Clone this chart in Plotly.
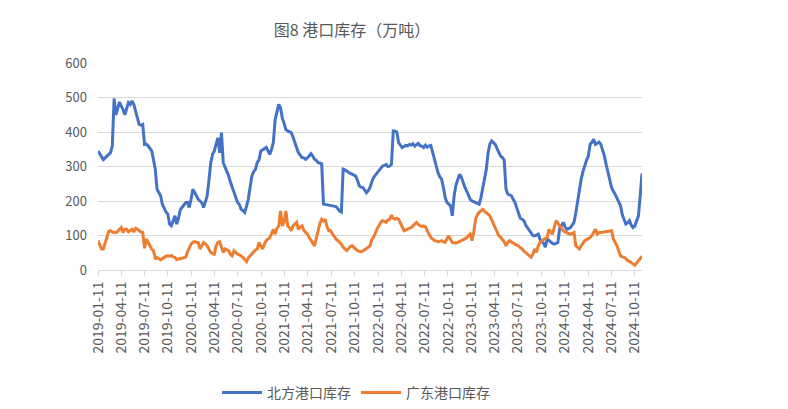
import pandas as pd
import plotly.graph_objects as go

# 周度数据，起点 2019-01-11
start_date = "2019-01-11"

north_stock = [
    345, 335, 328, 320, 325, 330, 335, 340, 360, 497,
    450, 470, 487, 475, 465, 450, 470, 485, 480, 490,
    480, 460, 446, 422, 420, 422, 364, 365, 360, 352,
    345, 320, 292, 234, 225, 215, 190, 176, 168, 162,
    133, 128, 145, 157, 133, 150, 175, 182, 190, 195,
    196, 181, 205, 234, 225, 215, 205, 200, 195, 181,
    195, 215, 260, 310, 335, 345, 365, 383, 340, 398,
    311, 300, 285, 273, 255, 240, 224, 210, 196, 190,
    176, 172, 167, 185, 205, 240, 273, 285, 292, 311,
    320, 345, 348, 350, 355, 345, 335, 350, 370, 436,
    460, 480, 470, 440, 425, 407, 403, 400, 398, 385,
    369, 355, 340, 333, 326, 325, 321, 325, 330, 337,
    330, 321, 318, 311, 310, 308, 191, 190, 190, 189,
    188, 187, 185, 184, 178, 171, 168, 292, 290, 286,
    282, 280, 278, 275, 272, 260, 244, 240, 239, 232,
    224, 230, 239, 255, 268, 275, 282, 288, 295, 301,
    303, 306, 300, 301, 306, 403, 402, 400, 369, 360,
    355, 358, 361, 360, 364, 362, 366, 359, 363, 367,
    360, 359, 355, 362, 356, 360, 361, 340, 321, 300,
    282, 270, 263, 240, 210, 196, 192, 186, 157, 215,
    245, 265, 277, 270, 253, 240, 229, 215, 205, 200,
    198, 196, 193, 191, 210, 234, 265, 292, 340, 365,
    374, 368, 364, 352, 340, 330, 326, 318, 234, 220,
    218, 215, 205, 196, 180, 167, 150, 147, 143, 130,
    123, 115, 109, 100, 99, 102, 104, 90, 82, 78,
    66, 90, 85, 80, 77, 75, 78, 80, 120, 130,
    138, 125, 118, 120, 123, 130, 138, 165, 196, 240,
    263, 285, 306, 318, 330, 364, 370, 379, 364, 368,
    371, 364, 350, 330, 305, 282, 260, 239, 228, 220,
    208, 196, 186, 160, 147, 133, 137, 143, 130, 123,
    128, 140, 157, 215, 280,
]

gd_stock = [
    85, 75, 61, 61, 80, 99, 112, 114, 110, 109,
    108, 112, 118, 123, 109, 118, 118, 111, 114, 118,
    110, 121, 118, 114, 110, 109, 63, 90, 80, 68,
    61, 56, 34, 36, 33, 30, 33, 37, 40, 41,
    40, 42, 38, 37, 30, 32, 32, 34, 36, 37,
    52, 65, 75, 80, 82, 80, 80, 61, 70, 80,
    76, 70, 60, 51, 48, 46, 70, 80, 82, 65,
    51, 61, 58, 56, 45, 41, 56, 50, 46, 44,
    40, 37, 30, 24, 35, 41, 47, 51, 58, 61,
    80, 70, 61, 75, 85, 90, 94, 105, 118, 104,
    120, 128, 171, 128, 140, 171, 128, 123, 114, 128,
    132, 138, 118, 125, 128, 115, 109, 104, 95, 85,
    78, 70, 95, 114, 135, 147, 142, 147, 125, 114,
    114, 105, 96, 90, 85, 80, 75, 66, 61, 56,
    62, 68, 70, 65, 60, 56, 54, 53, 55, 58,
    61, 66, 70, 88, 95, 110, 120, 128, 138, 143,
    140, 138, 145, 147, 159, 150, 147, 150, 147, 133,
    125, 114, 116, 118, 120, 123, 128, 133, 138, 132,
    128, 126, 128, 125, 114, 104, 94, 90, 85, 84,
    82, 83, 85, 82, 80, 90, 99, 88, 80, 79,
    78, 80, 82, 85, 88, 90, 94, 99, 104, 85,
    110, 147, 160, 167, 172, 176, 170, 167, 162, 157,
    145, 138, 125, 114, 99, 95, 90, 82, 70, 80,
    85, 80, 78, 75, 72, 70, 64, 61, 55, 50,
    46, 42, 37, 45, 61, 51, 70, 80, 85, 88,
    92, 94, 118, 110, 104, 125, 143, 135, 128, 120,
    114, 110, 109, 105, 104, 106, 109, 70, 65, 61,
    70, 78, 85, 88, 90, 94, 100, 110, 118, 104,
    108, 109, 110, 110, 111, 112, 113, 114, 90, 80,
    70, 55, 41, 38, 37, 33, 27, 25, 22, 18,
    14, 20, 27, 33, 40,
]

tick_labels = [
    "2019-01-11", "2019-04-11", "2019-07-11", "2019-10-11",
    "2020-01-11", "2020-04-11", "2020-07-11", "2020-10-11",
    "2021-01-11", "2021-04-11", "2021-07-11", "2021-10-11",
    "2022-01-11", "2022-04-11", "2022-07-11", "2022-10-11",
    "2023-01-11", "2023-04-11", "2023-07-11", "2023-10-11",
    "2024-01-11", "2024-04-11", "2024-07-11", "2024-10-11",
]

dates = pd.date_range(start_date, periods=len(north_stock), freq="7D")

font_cn = "Noto Sans CJK SC"
grey = "#595959"
W, H = 780, 401  # 页面默认留 8px 边距

fig = go.Figure()
fig.add_trace(go.Scatter(
    x=dates, y=north_stock, name="北方港口库存", mode="lines",
    line=dict(color="#4472C4", width=3),
))
fig.add_trace(go.Scatter(
    x=dates, y=gd_stock, name="广东港口库存", mode="lines",
    line=dict(color="#ED7D31", width=3),
))

fig.update_layout(
    width=W, height=H,
    margin=dict(l=90, r=146, t=55, b=139, autoexpand=False),
    paper_bgcolor="white", plot_bgcolor="white",
    font=dict(family=font_cn, color=grey, size=13),
    title=dict(text="图8 港口库存（万吨）", x=344 / W, xref="container", xanchor="center",
               y=1 - 22 / H, yref="container", yanchor="middle",
               font=dict(size=16, color=grey)),
    legend=dict(orientation="h", x=348 / W, xref="container", xanchor="center",
                y=1 - 385 / H, yref="container", yanchor="middle",
                font=dict(size=14, color=grey), itemwidth=40),
    showlegend=True,
)
fig.update_xaxes(
    type="date", range=[dates[0], dates[-1]],
    tickmode="array", tickvals=tick_labels, ticktext=tick_labels,
    tickangle=-90, tickfont=dict(size=14, color=grey),
    showgrid=False, showline=True, linecolor="#d9d9d9", linewidth=1,
    ticks="outside", ticklen=5, tickcolor="#d9d9d9", zeroline=False,
)
fig.update_yaxes(
    range=[0, 600], dtick=100, tickfont=dict(size=13, color=grey),
    showgrid=True, gridcolor="#d9d9d9", gridwidth=1,
    showline=False, zeroline=False, ticks="", ticklabelstandoff=10,
)

fig.write_html("out.html")
